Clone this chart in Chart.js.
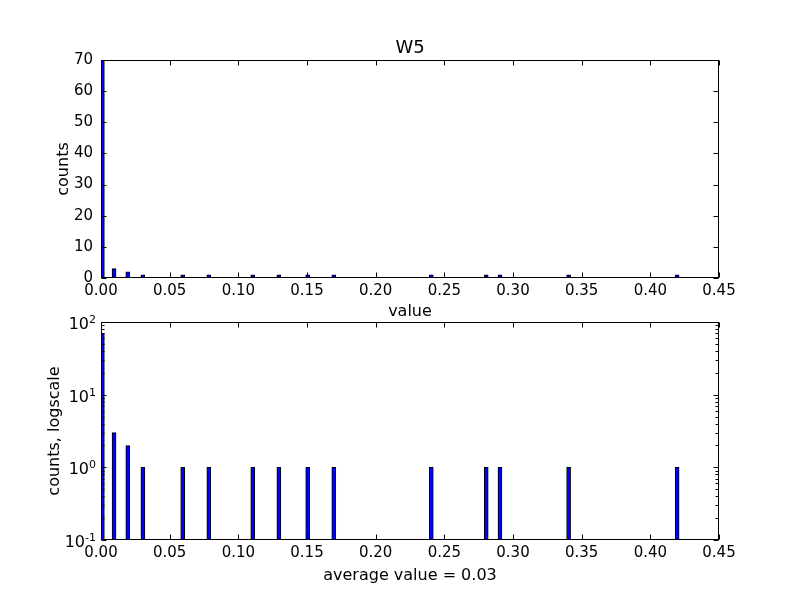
<!DOCTYPE html>
<html>
<head>
<meta charset="utf-8">
<script src="https://cdn.jsdelivr.net/npm/chart.js@4/dist/chart.umd.min.js"></script>
<style>
  body { margin: 0; background: #fff; }
  #wrap { position: relative; width: 800px; height: 600px; }
  canvas { position: absolute; left: 0; }
</style>
</head>
<body>
<div id="wrap">
  <canvas id="topChart" width="800" height="330" style="top:0"></canvas>
  <canvas id="bottomChart" width="800" height="300" style="top:300px"></canvas>
</div>
<script>
// bin centres and counts
const binCenters = [0.001, 0.0095, 0.0195, 0.0305, 0.0595, 0.0785, 0.1105, 0.1295, 0.1505, 0.1695, 0.2405, 0.2805, 0.2905, 0.3405, 0.4195];
const counts = [70, 3, 2, 1, 1, 1, 1, 1, 1, 1, 1, 1, 1, 1, 1];
const xTicks = [0, 0.05, 0.10, 0.15, 0.20, 0.25, 0.30, 0.35, 0.40, 0.45];
const linTicks = [0, 10, 20, 30, 40, 50, 60, 70];
const logDecades = [0.1, 1, 10, 100];
const avgValue = 0.03;

Chart.defaults.font.family = 'DejaVu Sans';
Chart.defaults.font.size = 15;
Chart.defaults.color = '#000';

const points = binCenters.map((x, i) => ({ x: x, y: counts[i] }));

// log ticks: decades plus 2..9 minors
const logTicks = [];
logDecades.forEach((d, i) => {
  logTicks.push({ value: d, major: true });
  if (i < logDecades.length - 1) {
    for (let m = 2; m <= 9; m++) logTicks.push({ value: d * m, major: false });
  }
});

// frame + matplotlib style inward ticks on all four sides, plus the text labels
const frame = {
  id: 'frame',
  afterDraw(chart, args, opts) {
    const { ctx, chartArea: a, scales } = chart;
    ctx.save();
    ctx.strokeStyle = '#000';
    ctx.lineWidth = 1;
    const L = Math.round(a.left) + 0.5, R = Math.round(a.right) - 0.5;
    const T = Math.round(a.top) + 0.5, B = Math.round(a.bottom) - 0.5;
    ctx.strokeRect(L, T, R - L, B - T);
    ctx.beginPath();
    scales.x.ticks.forEach(t => {
      const px = Math.round(scales.x.getPixelForValue(t.value)) + 0.5;
      ctx.moveTo(px, B); ctx.lineTo(px, B - 5);
      ctx.moveTo(px, T); ctx.lineTo(px, T + 5);
    });
    scales.y.ticks.forEach(t => {
      const py = Math.round(scales.y.getPixelForValue(t.value)) + 0.5;
      const len = t.major === false ? 3 : 5;
      ctx.moveTo(L, py); ctx.lineTo(L + len, py);
      ctx.moveTo(R, py); ctx.lineTo(R - len, py);
    });
    ctx.stroke();

    ctx.fillStyle = '#000';
    ctx.textBaseline = 'alphabetic';

    // 10^n labels with a raised exponent
    if (opts.logLabels) {
      scales.y.ticks.filter(t => t.major).forEach(t => {
        const py = scales.y.getPixelForValue(t.value);
        const e = String(Math.round(Math.log10(t.value)));
        ctx.textAlign = 'right';
        ctx.font = '11px "DejaVu Sans"';
        const ew = ctx.measureText(e).width;
        ctx.fillText(e, 96, py + 1);
        ctx.font = '16px "DejaVu Sans"';
        ctx.fillText('10', 96 - ew, py + 7);
      });
    }

    ctx.textAlign = 'center';
    const cx = (a.left + a.right) / 2;
    if (opts.title) {
      ctx.font = '18px "DejaVu Sans"';
      ctx.fillText(opts.title, cx, opts.titleY);
    }
    ctx.font = '16px "DejaVu Sans"';
    if (opts.xlabel) ctx.fillText(opts.xlabel, cx, opts.xlabelY);
    if (opts.ylabel) {
      ctx.save();
      ctx.translate(opts.ylabelX, (a.top + a.bottom) / 2);
      ctx.rotate(-Math.PI / 2);
      ctx.fillText(opts.ylabel, 0, 0);
      ctx.restore();
    }
    ctx.restore();
  }
};

function barDataset() {
  return {
    data: points,
    backgroundColor: '#0000ff',
    borderColor: '#000',
    borderWidth: 1,
    borderSkipped: false,
    barThickness: 4
  };
}

function xScale(height) {
  return {
    type: 'linear',
    min: 0,
    max: 0.45,
    offset: false,
    grid: { display: false, drawTicks: false },
    border: { display: false },
    afterBuildTicks: s => { s.ticks = xTicks.map(v => ({ value: v })); },
    afterFit: s => { s.height = height; },
    ticks: { padding: 4, maxRotation: 0, autoSkip: false, callback: v => v.toFixed(2) }
  };
}

new Chart(document.getElementById('topChart'), {
  type: 'bar',
  data: { datasets: [barDataset()] },
  options: {
    responsive: false,
    animation: false,
    layout: { padding: { top: 60, right: 81, left: 0, bottom: 0 } },
    plugins: {
      legend: { display: false },
      tooltip: { enabled: false },
      frame: { title: 'W5', titleY: 53, xlabel: 'value', xlabelY: 316, ylabel: 'counts', ylabelX: 68 }
    },
    scales: {
      x: xScale(52),
      y: {
        type: 'linear',
        min: 0,
        max: 70,
        grid: { display: false, drawTicks: false },
        border: { display: false },
        afterBuildTicks: s => { s.ticks = linTicks.map(v => ({ value: v })); },
        afterFit: s => { s.width = 101; },
        ticks: { padding: 8 }
      }
    }
  },
  plugins: [frame]
});

new Chart(document.getElementById('bottomChart'), {
  type: 'bar',
  data: { datasets: [barDataset()] },
  options: {
    responsive: false,
    animation: false,
    layout: { padding: { top: 22, right: 81, left: 0, bottom: 0 } },
    plugins: {
      legend: { display: false },
      tooltip: { enabled: false },
      frame: { logLabels: true, xlabel: 'average value = ' + avgValue.toFixed(2), xlabelY: 280, ylabel: 'counts, logscale', ylabelX: 59 }
    },
    scales: {
      x: xScale(60),
      y: {
        type: 'logarithmic',
        min: 0.1,
        max: 100,
        grid: { display: false, drawTicks: false },
        border: { display: false },
        afterBuildTicks: s => { s.ticks = logTicks.map(t => ({ value: t.value, major: t.major })); },
        afterFit: s => { s.width = 101; },
        ticks: { display: false }
      }
    }
  },
  plugins: [frame]
});
</script>
</body>
</html>
